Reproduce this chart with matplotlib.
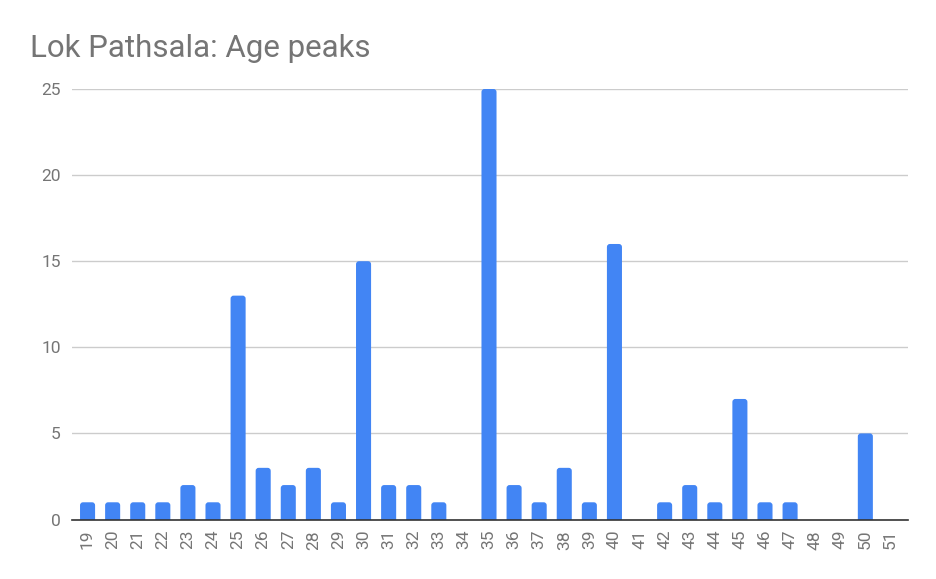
import matplotlib.pyplot as plt
from matplotlib.patches import FancyBboxPatch

ages = list(range(19, 52))
counts = [1, 1, 1, 1, 2, 1, 13, 3, 2, 3, 1, 15, 2, 2, 1, 0, 25, 2, 1, 3, 1, 16, 0,
          1, 2, 1, 7, 1, 1, 0, 0, 5, 0]
y_ticks = [0, 5, 10, 15, 20, 25]

BLUE = "#4285F4"
GREY = "#757575"

plt.rcParams["font.family"] = ["Roboto", "DejaVu Sans"]

fig = plt.figure(figsize=(9.37, 5.79), dpi=100)
ax = fig.add_axes([72 / 937, 1 - 519.5 / 579, (908 - 72) / 937, (519.5 - 89) / 579])

pos = list(range(len(ages)))
bars = ax.bar(pos, counts, width=0.6, color=BLUE)

ax.set_xlim(-0.62, len(ages) - 0.3)
ax.set_ylim(0, 25)

# rounded top corners: swap each bar for a rounded box that dips below the axis
r = 0.12
aspect = (25 / 430.5) / ((len(ages) - 0.3 + 0.62) / 836)
for b in bars:
    h = b.get_height()
    if h > 0:
        p = FancyBboxPatch((b.get_x(), -1), b.get_width(), h + 1,
                           boxstyle=f"round,pad=0,rounding_size={r}",
                           mutation_aspect=aspect, facecolor=BLUE,
                           edgecolor="none", zorder=2)
        ax.add_patch(p)
    b.remove()

ax.set_yticks(y_ticks)
ax.set_xticks(pos)
ax.set_xticklabels([str(a) for a in ages], rotation=90)
ax.tick_params(axis="both", length=0, labelsize=12.5, labelcolor=GREY)
ax.tick_params(axis="x", pad=7.5)
ax.tick_params(axis="y", pad=8)

ax.grid(axis="y", color="#cccccc", linewidth=1)
ax.set_axisbelow(True)
for s in ["top", "right", "left"]:
    ax.spines[s].set_visible(False)
ax.spines["bottom"].set_color("#333333")
ax.spines["bottom"].set_linewidth(1.2)
ax.spines["bottom"].set_zorder(3)

fig.text(30 / 937, 1 - 57 / 579, "Lok Pathsala: Age peaks", fontsize=22.5,
         color=GREY, ha="left", va="baseline")

fig.savefig("out.png", dpi=100)
